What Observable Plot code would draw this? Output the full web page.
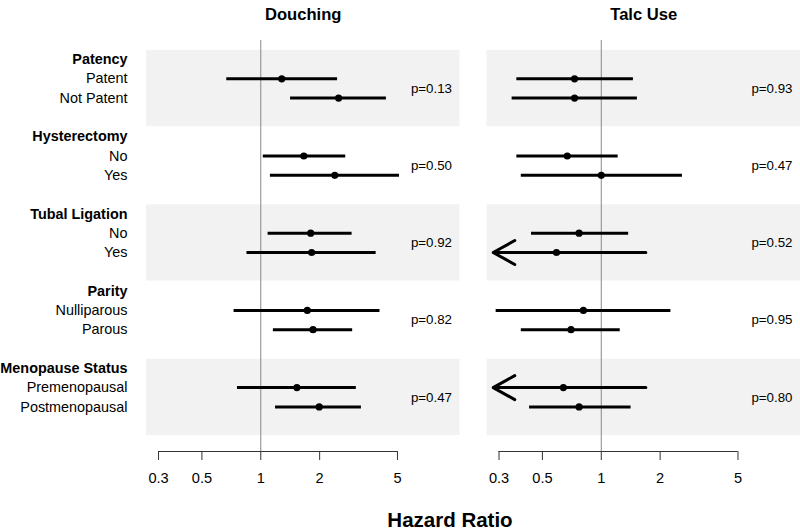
<!DOCTYPE html>
<html>
<head>
<meta charset="utf-8">
<script src="https://cdn.jsdelivr.net/npm/d3@7"></script>
<script src="https://cdn.jsdelivr.net/npm/@observablehq/plot@0.6"></script>
<style>
  body { margin: 0; background: #fff; }
  #wrap { width: 800px; font-family: "Liberation Sans", Arial, Helvetica, sans-serif; }
  #xtitle { width: 900px; text-align: center; font-weight: bold; font-size: 20.5px; line-height: 22px; margin-top: 9px; color: #000; }
</style>
</head>
<body>
<div id="wrap">
  <div id="chart"></div>
  <div id="xtitle">Hazard Ratio</div>
</div>
<script>
// ---- data ----
const panels = ["Douching", "Talc Use"];
const groups = ["Patency", "Hysterectomy", "Tubal Ligation", "Parity", "Menopause Status"];
const levels = [["Patent", "Not Patent"], ["No", "Yes"], ["No", "Yes"], ["Nulliparous", "Parous"], ["Premenopausal", "Postmenopausal"]];

const douchingHR = [1.28, 2.50, 1.66, 2.39, 1.80, 1.82, 1.73, 1.85, 1.53, 1.99];
const douchingLo = [0.67, 1.42, 1.03, 1.12, 1.09, 0.85, 0.73, 1.16, 0.76, 1.19];
const douchingHi = [2.47, 4.39, 2.72, 5.12, 2.93, 3.89, 4.07, 2.95, 3.08, 3.27];
const douchingP  = ["0.13", "0.50", "0.92", "0.82", "0.47"];

const talcHR = [0.73, 0.73, 0.67, 1.00, 0.77, 0.59, 0.81, 0.70, 0.64, 0.77];
const talcLo = [0.37, 0.35, 0.37, 0.39, 0.44, 0.25, 0.29, 0.39, 0.25, 0.43];
const talcHi = [1.46, 1.53, 1.22, 2.60, 1.38, 1.69, 2.27, 1.25, 1.69, 1.42];
const talcP  = ["0.93", "0.47", "0.52", "0.95", "0.80"];

const xTicks = [0.3, 0.5, 1, 2, 5];
const xTickLabels = ["0.3", "0.5", "1", "2", "5"];
const lowerLimit = 0.28; // CIs below this are truncated and drawn with an arrow

// ---- build tables ----
const series = {
  "Douching": {hr: douchingHR, lo: douchingLo, hi: douchingHi, p: douchingP},
  "Talc Use": {hr: talcHR, lo: talcLo, hi: talcHi, p: talcP}
};
const rows = [];
const pvals = [];
panels.forEach(panel => {
  const s = series[panel];
  groups.forEach((g, gi) => {
    levels[gi].forEach((lev, k) => {
      const i = gi * 2 + k;
      const lo = s.lo[i];
      rows.push({panel, y: gi * 4 + 1 + k, hr: s.hr[i], lo: Math.max(lo, lowerLimit), hi: s.hi[i], trunc: lo < lowerLimit});
    });
    pvals.push({panel, y: gi * 4 + 1.5, text: "p=" + s.p[gi]});
  });
});
const headers = groups.map((g, gi) => ({y: gi * 4, text: g}));
const items = [];
groups.forEach((g, gi) => levels[gi].forEach((lev, k) => items.push({y: gi * 4 + 1 + k, text: lev})));
const bands = groups.map((g, gi) => gi).filter(gi => gi % 2 === 0)
  .map(gi => ({y1: gi * 4 - 0.47, y2: gi * 4 + 3.48}));
const ticks = xTicks.map((v, i) => ({v, label: xTickLabels[i]}));

const yDomain = [-0.984, 20.311];
const tickLen = 0.466; // 9px in row units

const chart = Plot.plot({
  width: 800,
  height: 500,
  marginLeft: 146,
  marginRight: 0,
  marginTop: 40,
  marginBottom: 49,
  style: {fontFamily: "Liberation Sans, Arial, Helvetica, sans-serif", fontSize: "14.4px", color: "#000", background: "#fff"},
  fx: {domain: panels, paddingInner: 0.0793, paddingOuter: 0, round: false, axis: null, label: null},
  x: {type: "log", domain: [0.2604, 10.44], axis: null},
  y: {domain: yDomain, reverse: true, axis: null},
  marks: [
    Plot.rect(bands, {y1: "y1", y2: "y2", fill: "#f2f2f2"}),
    Plot.ruleX([1], {stroke: "#888", strokeWidth: 1}),
    Plot.ruleY([yDomain[1]], {x1: d3.min(xTicks), x2: d3.max(xTicks), stroke: "#333", strokeWidth: 1}),
    Plot.ruleX(ticks, {x: "v", y1: yDomain[1], y2: yDomain[1] + tickLen, stroke: "#333", strokeWidth: 1, clip: false}),
    Plot.text(ticks, {x: "v", text: "label", frameAnchor: "bottom", dy: 31, fontSize: 14.6, fill: "#000"}),
    Plot.ruleY(rows, {fx: "panel", y: "y", x1: "lo", x2: "hi", stroke: "#000", strokeWidth: 3}),
    Plot.arrow(rows.filter(d => d.trunc), {fx: "panel", x1: "hi", x2: "lo", y1: "y", y2: "y", stroke: "#000", strokeWidth: 3, headAngle: 58, headLength: 12.35}),
    Plot.dot(rows, {fx: "panel", x: "hr", y: "y", r: 3.6, fill: "#000", stroke: "none"}),
    Plot.text(pvals, {fx: "panel", y: "y", text: "text", frameAnchor: "right", dx: -8, textAnchor: "end", fontSize: 13.3, fill: "#000"}),
    Plot.text(headers, {fx: () => panels[0], y: "y", text: "text", frameAnchor: "left", dx: -19, textAnchor: "end", fontWeight: "bold", fontSize: 14.4, fill: "#000"}),
    Plot.text(items, {fx: () => panels[0], y: "y", text: "text", frameAnchor: "left", dx: -19, textAnchor: "end", fontSize: 14.4, fill: "#000"}),
    Plot.text(panels, {fx: d => d, text: d => d, frameAnchor: "top", dy: -32, fontWeight: "bold", fontSize: 16.6, fill: "#000"})
  ]
});
document.getElementById("chart").appendChild(chart);
</script>
</body>
</html>
